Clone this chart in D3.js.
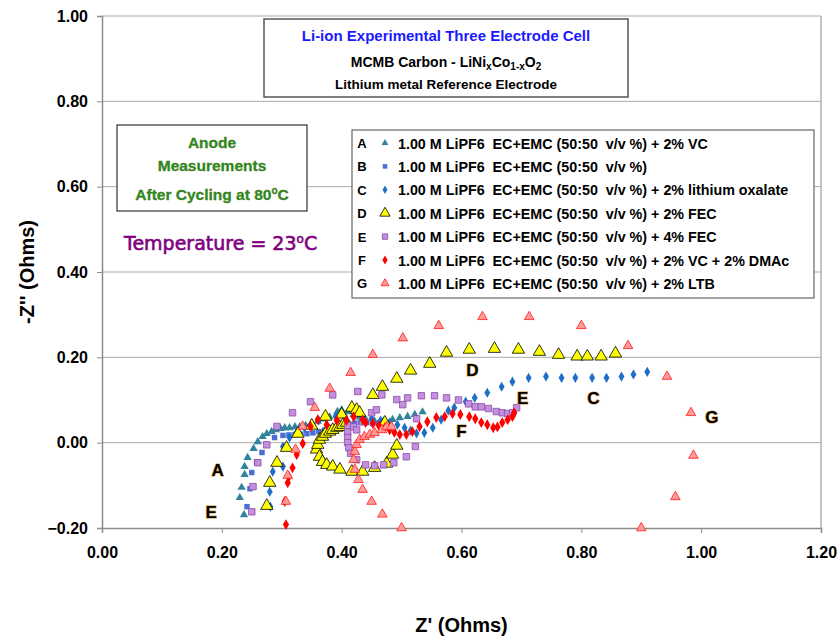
<!DOCTYPE html>
<html lang="en">
<head>
<meta charset="UTF-8">
<title>Anode Measurements</title>
<script src="https://cdn.jsdelivr.net/npm/d3@7"></script>
<style>
  body { margin: 0; background: #fff; }
  text { font-family: "Liberation Sans", Arial, sans-serif; }
</style>
</head>
<body>
<div id="chart"></div>
<script>
// axis ticks
const xTicks = [0, 0.2, 0.4, 0.6, 0.8, 1.0, 1.2];
const yTicks = [-0.2, 0, 0.2, 0.4, 0.6, 0.8, 1.0];

// [Z', -Z'']
const seriesA = [[0.237,-0.169],[0.230,-0.129],[0.233,-0.105],[0.238,-0.075],[0.238,-0.056],[0.243,-0.035],[0.253,-0.014],
  [0.260,0.002],[0.268,0.014],[0.275,0.021],[0.283,0.026],[0.290,0.030],[0.298,0.033],[0.305,0.035],[0.313,0.035],
  [0.322,0.037],[0.330,0.037],[0.340,0.040],[0.350,0.045],[0.360,0.050],[0.370,0.055],[0.380,0.060],[0.393,0.073],
  [0.400,0.077],[0.410,0.072],[0.420,0.066],[0.430,0.060],[0.440,0.055],[0.455,0.050],[0.470,0.050],[0.485,0.054],
  [0.497,0.058],[0.510,0.061],[0.522,0.066],[0.535,0.072]];
const seriesB = [[0.242,-0.150],[0.247,-0.108],[0.250,-0.070],[0.258,-0.045],[0.267,-0.023],[0.275,-0.005],[0.288,0.012],
  [0.302,0.017],[0.312,0.018],[0.322,0.019],[0.332,0.020],[0.342,0.021],[0.352,0.023],[0.362,0.026],[0.372,0.030],
  [0.382,0.034],[0.392,0.038],[0.402,0.041],[0.412,0.044],[0.422,0.046],[0.432,0.047],[0.442,0.047],[0.452,0.045],
  [0.462,0.046],[0.472,0.048]];
const seriesC = [[0.281,-0.150],[0.280,-0.115],[0.285,-0.068],[0.302,-0.056],[0.302,-0.009],[0.313,0.012],[0.325,0.025],
  [0.338,0.035],[0.350,0.045],[0.362,0.052],[0.375,0.058],[0.390,0.062],[0.405,0.063],[0.420,0.062],[0.435,0.060],
  [0.450,0.056],[0.465,0.052],[0.480,0.047],[0.493,0.042],[0.505,0.035],[0.515,0.028],[0.525,0.022],[0.538,0.023],
  [0.552,0.035],[0.566,0.054],[0.578,0.075],[0.588,0.082],[0.607,0.096],[0.622,0.105],[0.643,0.117],[0.667,0.131],
  [0.685,0.143],[0.712,0.152],[0.741,0.155],[0.767,0.152],[0.790,0.152],[0.818,0.152],[0.842,0.152],[0.867,0.155],
  [0.887,0.160],[0.910,0.166]];
const seriesD = [[0.275,-0.148],[0.280,-0.094],[0.292,-0.047],[0.308,-0.012],[0.327,0.021],[0.350,0.040],[0.373,0.061],
  [0.400,0.066],[0.417,0.082],[0.425,0.077],[0.430,0.070],[0.452,0.112],[0.468,0.131],[0.492,0.150],[0.515,0.169],
  [0.547,0.185],[0.575,0.211],[0.613,0.218],[0.655,0.220],[0.695,0.218],[0.730,0.213],[0.762,0.206],[0.793,0.202],
  [0.810,0.202],[0.833,0.202],[0.857,0.209],
  [0.358,-0.016],[0.360,-0.005],[0.363,0.007],[0.368,0.014],[0.373,0.021],[0.380,0.026],[0.385,0.030],[0.392,0.035],
  [0.397,0.037],[0.402,0.042],[0.408,0.047],
  [0.363,-0.033],[0.368,-0.045],[0.375,-0.052],[0.385,-0.056],[0.397,-0.063],[0.417,-0.068],[0.435,-0.068],
  [0.455,-0.059],[0.475,-0.049],[0.485,-0.028],[0.492,-0.007],[0.472,0.047]];
const seriesE = [[0.250,-0.162],[0.252,-0.103],[0.260,-0.047],[0.275,-0.005],[0.292,0.038],[0.318,0.070],[0.348,0.096],
  [0.385,0.112],[0.427,0.120],[0.467,0.112],[0.492,0.101],[0.502,0.089],[0.510,0.105],[0.533,0.110],[0.555,0.110],
  [0.575,0.105],[0.595,0.100],[0.612,0.091],[0.623,0.084],[0.633,0.084],[0.645,0.080],[0.658,0.073],[0.668,0.070],
  [0.677,0.068],[0.685,0.070],[0.692,0.082],
  [0.410,0.040],[0.410,0.025],[0.410,0.012],[0.410,0.000],[0.412,-0.012],[0.415,-0.025],[0.425,-0.040],[0.440,-0.052],
  [0.455,-0.054],[0.470,-0.052],[0.487,-0.047],[0.508,-0.033],[0.523,-0.009],[0.525,0.056],[0.435,0.049],[0.450,0.070],
  [0.458,0.077],[0.420,0.037],[0.425,0.030]];
const seriesF = [[0.307,-0.192],[0.305,-0.138],[0.310,-0.094],[0.312,-0.080],[0.318,-0.059],[0.325,-0.028],[0.335,-0.002],
  [0.348,0.038],[0.360,0.054],[0.375,0.042],[0.392,0.052],[0.408,0.052],[0.420,0.061],[0.435,0.054],
  [0.440,0.047],[0.452,0.045],[0.462,0.040],[0.472,0.035],[0.480,0.030],[0.488,0.024],[0.497,0.019],[0.508,0.019],
  [0.518,0.026],[0.530,0.038],[0.543,0.049],[0.558,0.059],[0.572,0.061],[0.585,0.068],[0.598,0.066],[0.613,0.061],
  [0.623,0.056],[0.633,0.047],[0.643,0.042],[0.653,0.035],[0.660,0.037],[0.668,0.047],[0.677,0.054],[0.685,0.061],
  [0.688,0.070]];
const seriesG = [[0.500,-0.200],[0.468,-0.168],[0.450,-0.138],[0.435,-0.110],[0.428,-0.087],[0.422,-0.063],[0.420,-0.040],
  [0.422,-0.021],[0.425,-0.005],[0.430,0.007],[0.438,0.014],[0.447,0.019],[0.455,0.023],[0.467,0.030],[0.475,0.037],
  [0.483,0.037],[0.307,-0.138],[0.310,-0.077],[0.323,-0.016],[0.335,0.038],[0.355,0.082],[0.380,0.127],[0.415,0.164],
  [0.452,0.206],[0.502,0.245],[0.562,0.274],[0.635,0.295],[0.713,0.295],[0.800,0.274],[0.878,0.227],[0.943,0.155],
  [0.983,0.070],[0.987,-0.030],[0.957,-0.127],[0.900,-0.200]];

const legendLetters = ["A", "B", "C", "D", "E", "F", "G"];
const legendNames = [
  "1.00 M LiPF6  EC+EMC (50:50  v/v %) + 2% VC",
  "1.00 M LiPF6  EC+EMC (50:50  v/v %)",
  "1.00 M LiPF6  EC+EMC (50:50  v/v %) + 2% lithium oxalate",
  "1.00 M LiPF6  EC+EMC (50:50  v/v %) + 2% FEC",
  "1.00 M LiPF6  EC+EMC (50:50  v/v %) + 4% FEC",
  "1.00 M LiPF6  EC+EMC (50:50  v/v %) + 2% VC + 2% DMAc",
  "1.00 M LiPF6  EC+EMC (50:50  v/v %) + 2% LTB"
];
// letters written next to the curves, [label, Z', -Z'']
const curveLabels = [["A",0.193,-0.063],["E",0.182,-0.162],["D",0.618,0.171],["E",0.702,0.105],
  ["F",0.600,0.028],["C",0.820,0.105],["G",1.018,0.059]];

const allSeries = [seriesA, seriesB, seriesC, seriesD, seriesE, seriesF, seriesG];
const styles = [
  { shape: d3.symbolTriangle, size: 30, fill: "#31849b", stroke: "none" },
  { shape: d3.symbolSquare,   size: 30, fill: "#4a6fd6", stroke: "none" },
  { shape: d3.symbolDiamond,  size: 30, fill: "#1f6fc8", stroke: "none" },
  { shape: d3.symbolTriangle, size: 66, fill: "#ffff00", stroke: "#000" },
  { shape: d3.symbolSquare,   size: 42, fill: "#c48fdc", stroke: "#8c4ca8" },
  { shape: d3.symbolDiamond,  size: 34, fill: "#ff0000", stroke: "none" },
  { shape: d3.symbolTriangle, size: 40, fill: "#ff9a9a", stroke: "#ff1a1a" }
];

const width = 840, height = 638;
const margin = { top: 16, right: 19, bottom: 110, left: 102 };

const svg = d3.select("#chart").append("svg")
  .attr("width", width)
  .attr("height", height);

const x = d3.scaleLinear().domain([0, 1.2]).range([margin.left, width - margin.right]);
const y = d3.scaleLinear().domain([-0.2, 1.0]).range([height - margin.bottom, margin.top]);

// gridlines
svg.append("g")
  .selectAll("line")
  .data(yTicks.filter(d => d > -0.2))
  .join("line")
  .attr("x1", x(0)).attr("x2", x(1.2))
  .attr("y1", d => y(d)).attr("y2", d => y(d))
  .attr("stroke", "#ababab");

// right border
svg.append("line")
  .attr("x1", x(1.2)).attr("x2", x(1.2))
  .attr("y1", y(1.0)).attr("y2", y(-0.2))
  .attr("stroke", "#8c8c8c");

const xAxis = svg.append("g")
  .attr("transform", `translate(0,${y(-0.2)})`)
  .call(d3.axisBottom(x).tickValues(xTicks).tickFormat(d3.format(".2f")).tickSize(5).tickPadding(14));
const yAxis = svg.append("g")
  .attr("transform", `translate(${x(0)},0)`)
  .call(d3.axisLeft(y).tickValues(yTicks).tickFormat(d3.format(".2f")).tickSize(5).tickPadding(9));

[xAxis, yAxis].forEach(ax => {
  ax.select(".domain").attr("stroke", "#8c8c8c").attr("stroke-width", 1.5);
  ax.selectAll(".tick line").attr("stroke", "#8c8c8c");
  ax.selectAll(".tick text")
    .attr("fill", "#000")
    .style("font-size", "16px")
    .style("font-weight", "bold")
    .style("font-family", "'Liberation Sans', Arial, sans-serif");
});

// axis titles
svg.append("text")
  .attr("x", x(0.6)).attr("y", 632)
  .attr("text-anchor", "middle")
  .style("font-size", "20px").style("font-weight", "bold")
  .text("Z' (Ohms)");
svg.append("text")
  .attr("transform", "rotate(-90)")
  .attr("x", -y(0.4)).attr("y", 34)
  .attr("text-anchor", "middle")
  .style("font-size", "20px").style("font-weight", "bold")
  .text("-Z'' (Ohms)");

// points
allSeries.forEach((data, i) => {
  const s = styles[i];
  svg.append("g")
    .selectAll("path")
    .data(data)
    .join("path")
    .attr("transform", d => `translate(${x(d[0])},${y(d[1])})`)
    .attr("d", d3.symbol().type(s.shape).size(s.size))
    .attr("fill", s.fill)
    .attr("stroke", s.stroke)
    .attr("stroke-width", 0.8);
});

// curve letters
svg.append("g")
  .selectAll("text")
  .data(curveLabels)
  .join("text")
  .attr("x", d => x(d[1]))
  .attr("y", d => y(d[2]) + 6)
  .attr("text-anchor", "middle")
  .style("font-size", "17px").style("font-weight", "bold")
  .attr("fill", "#000")
  .attr("stroke", "#e0a050").attr("stroke-width", 1.2)
  .style("paint-order", "stroke")
  .text(d => d[0]);

// title box
svg.append("rect")
  .attr("x", 264).attr("y", 19).attr("width", 364).attr("height", 78)
  .attr("fill", "#fff").attr("stroke", "#555").attr("stroke-width", 1.5);
svg.append("text")
  .attr("x", 446).attr("y", 41)
  .attr("text-anchor", "middle")
  .attr("fill", "#1a1aff")
  .style("font-size", "15px").style("font-weight", "bold")
  .text("Li-ion Experimental Three Electrode Cell");
const sub = svg.append("text")
  .attr("x", 446).attr("y", 67)
  .attr("text-anchor", "middle")
  .style("font-size", "14px").style("font-weight", "bold");
sub.append("tspan").text("MCMB Carbon - LiNi");
sub.append("tspan").attr("dy", 3).style("font-size", "10px").text("x");
sub.append("tspan").attr("dy", -3).text("Co");
sub.append("tspan").attr("dy", 3).style("font-size", "10px").text("1-x");
sub.append("tspan").attr("dy", -3).text("O");
sub.append("tspan").attr("dy", 3).style("font-size", "10px").text("2");
svg.append("text")
  .attr("x", 446).attr("y", 89)
  .attr("text-anchor", "middle")
  .style("font-size", "13.5px").style("font-weight", "bold")
  .text("Lithium metal Reference Electrode");

// anode box
svg.append("rect")
  .attr("x", 117).attr("y", 125).attr("width", 190).attr("height", 86)
  .attr("fill", "#fff").attr("stroke", "#333").attr("stroke-width", 1.2);
const anodeLines = ["Anode", "Measurements"];
anodeLines.forEach((t, i) => {
  svg.append("text")
    .attr("x", 212).attr("y", 148 + i * 23)
    .attr("text-anchor", "middle")
    .attr("fill", "#1f8f1f").attr("stroke", "#5a6a10").attr("stroke-width", 0.3)
    .style("font-size", "15.5px").style("font-weight", "bold")
    .text(t);
});
const cyc = svg.append("text")
  .attr("x", 212).attr("y", 200)
  .attr("text-anchor", "middle")
  .attr("fill", "#1f8f1f").attr("stroke", "#5a6a10").attr("stroke-width", 0.3)
  .style("font-size", "15.5px").style("font-weight", "bold");
cyc.append("tspan").text("After Cycling at 80");
cyc.append("tspan").attr("dy", -6).style("font-size", "10px").text("o");
cyc.append("tspan").attr("dy", 6).text("C");

// temperature note
const temp = svg.append("text")
  .attr("x", 124).attr("y", 250)
  .attr("fill", "#800080").attr("stroke", "#800080").attr("stroke-width", 0.6)
  .style("font-family", "'Comic Sans MS', 'DejaVu Sans', sans-serif")
  .style("font-size", "19px");
temp.append("tspan").text("Temperature = 23");
temp.append("tspan").attr("dy", -7).style("font-size", "12px").text("o");
temp.append("tspan").attr("dy", 7).text("C");

// legend
const legend = svg.append("g");
legend.append("rect")
  .attr("x", 352).attr("y", 130).attr("width", 462).attr("height", 168)
  .attr("fill", "#fff").attr("stroke", "#666").attr("stroke-width", 1.2);
legendNames.forEach((name, i) => {
  const ly = 143 + i * 23.4;
  const s = styles[i];
  legend.append("text")
    .attr("x", 362).attr("y", ly + 5)
    .attr("text-anchor", "middle")
    .style("font-size", "13px").style("font-weight", "bold")
    .text(legendLetters[i]);
  legend.append("path")
    .attr("transform", `translate(385,${ly})`)
    .attr("d", d3.symbol().type(s.shape).size(s.size * 0.7))
    .attr("fill", s.fill).attr("stroke", s.stroke).attr("stroke-width", 0.8);
  legend.append("text")
    .attr("x", 398).attr("y", ly + 5.5)
    .style("font-size", "14.3px").style("font-weight", "bold")
    .attr("xml:space", "preserve")
    .text(name);
});
</script>
</body>
</html>
